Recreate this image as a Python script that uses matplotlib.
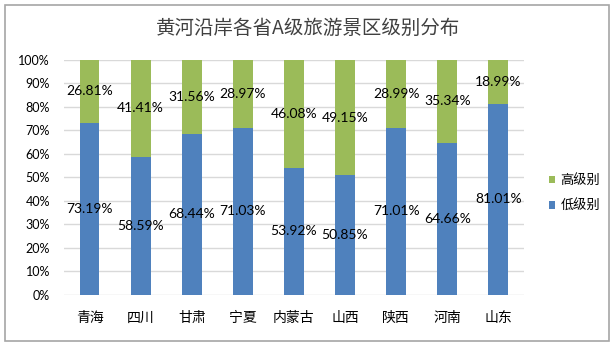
import matplotlib.pyplot as plt
from matplotlib.patches import Rectangle

# 数据
provinces = ['青海', '四川', '甘肃', '宁夏', '内蒙古', '山西', '陕西', '河南', '山东']
low_level = [73.19, 58.59, 68.44, 71.03, 53.92, 50.85, 71.01, 64.66, 81.01]
high_level = [26.81, 41.41, 31.56, 28.97, 46.08, 49.15, 28.99, 35.34, 18.99]

plt.rcParams['font.family'] = ['Lato', 'Noto Sans CJK SC', 'DejaVu Sans']

fig = plt.figure(figsize=(6.14, 3.46), dpi=100)
ax = fig.add_axes([0.1042, 0.1488, 0.749, 0.678])

x = range(len(provinces))
ax.bar(x, low_level, width=0.39, color='#4F81BD', label='低级别', zorder=3)
ax.bar(x, high_level, width=0.39, bottom=low_level, color='#9BBB59',
       label='高级别', zorder=3)

# 数据标签放在每段中间
for i in x:
    ax.text(i, low_level[i] / 2, f'{low_level[i]:.2f}%', ha='center', va='center',
            fontsize=10, color='black', zorder=4)
    ax.text(i, low_level[i] + high_level[i] / 2, f'{high_level[i]:.2f}%', ha='center',
            va='center', fontsize=10, color='black', zorder=4)

ax.set_ylim(0, 100)
ax.set_xlim(-0.5, len(provinces) - 0.5)
ax.set_yticks(range(0, 101, 10))
ax.set_yticklabels([f'{v}%' for v in range(0, 101, 10)], fontsize=9)
ax.set_xticks(list(x))
ax.set_xticklabels(provinces, fontsize=10, family=['Noto Sans CJK SC'])
ax.tick_params(axis='both', length=0)
ax.tick_params(axis='x', pad=12)
ax.tick_params(axis='y', pad=10)
ax.grid(axis='y', color='#D9D9D9', linewidth=1, zorder=0)
for s in ax.spines.values():
    s.set_visible(False)

fig.text(0.5016, 0.918, '黄河沿岸各省A级旅游景区级别分布', ha='center', va='center',
         fontsize=14, color='#404040', family=['Noto Sans CJK SC'])

handles, labels = ax.get_legend_handles_labels()
fig.legend(handles[::-1], labels[::-1], loc='center left', bbox_to_anchor=(0.875, 0.441),
           frameon=False, handlelength=0.45, handleheight=0.45,
           handletextpad=0.4, labelspacing=0.95,
           prop={'family': ['Noto Sans CJK SC'], 'size': 9.5})

fig.patches.append(Rectangle((0.008, 0.015), 0.984, 0.97, transform=fig.transFigure,
                             fill=False, edgecolor='#A6A6A6', linewidth=1.2))

fig.savefig('out.png', dpi=100)
